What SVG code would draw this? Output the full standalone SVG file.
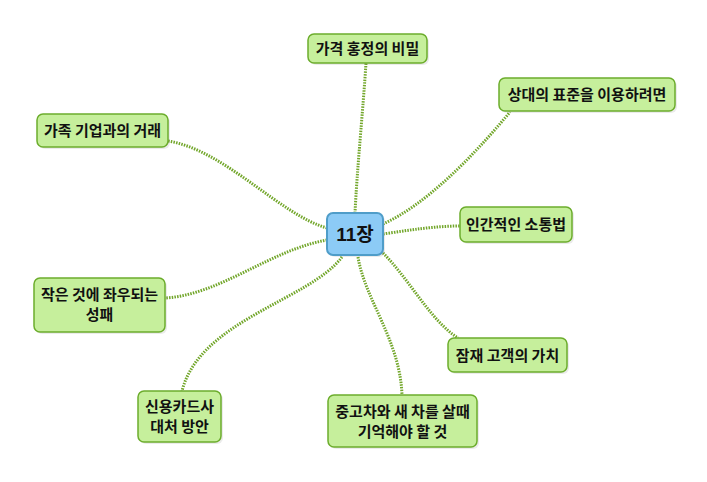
<svg xmlns="http://www.w3.org/2000/svg" width="707" height="482" viewBox="0 0 707 482">
<style>
.bg{fill:#ffffff}
.con{fill:none;stroke:#72a62a;stroke-width:3;stroke-dasharray:1.5 1.2}
.box{fill:#c6ef9c;stroke:#6cad2c;stroke-width:1.5}
.shadow{fill:#000;opacity:0.08}
.cbox{fill:#8ccbf6;stroke:#4f9dc9;stroke-width:2}
.t{font-family:"Noto Sans CJK KR","Noto Sans",sans-serif;font-weight:bold;font-size:15px;fill:#111;text-anchor:middle}
.ct{font-family:"Liberation Sans","Noto Sans CJK KR",sans-serif;font-weight:bold;font-size:19px;fill:#111;text-anchor:middle}
</style>
<rect class="bg" x="0" y="0" width="707" height="482"/>
<g id="connectors">
<path class="con" d="M355,213 C357,170 363,110 366,63"/>
<path class="con" d="M383,224 C425,205 470,160 510,112"/>
<path class="con" d="M327,228 C280,215 225,150 168,141"/>
<path class="con" d="M383,234 C410,230 435,226 460,226"/>
<path class="con" d="M327,240 C270,250 220,295 165,298"/>
<path class="con" d="M342,257 C310,300 200,320 182,391"/>
<path class="con" d="M358,257 C365,300 400,340 402,395"/>
<path class="con" d="M383,253 C410,280 430,320 458,338"/>
</g>
<g id="center">
<rect class="shadow" x="329" y="215" width="56" height="42" rx="6"/>
<rect class="cbox" x="327" y="213" width="56" height="42" rx="6"/>
<text class="ct" x="355" y="241">11장</text>
</g>
<g id="n1">
<rect class="shadow" x="310" y="36" width="119" height="29" rx="6"/>
<rect class="box" x="308" y="34" width="119" height="29" rx="6"/>
<text class="t" x="367.5" y="54">가격 홍정의 비밀</text>
</g>
<g id="n2">
<rect class="shadow" x="501" y="80" width="176" height="33" rx="6"/>
<rect class="box" x="499" y="78" width="176" height="33" rx="6"/>
<text class="t" x="587" y="100">상대의 표준을 이용하려면</text>
</g>
<g id="n3">
<rect class="shadow" x="39" y="116" width="131" height="33" rx="6"/>
<rect class="box" x="37" y="114" width="131" height="33" rx="6"/>
<text class="t" x="102.5" y="136">가족 기업과의 거래</text>
</g>
<g id="n8">
<rect class="shadow" x="462" y="209" width="112" height="35" rx="6"/>
<rect class="box" x="460" y="207" width="112" height="35" rx="6"/>
<text class="t" x="516" y="230">인간적인 소통법</text>
</g>
<g id="n4">
<rect class="shadow" x="36" y="280" width="131" height="54" rx="6"/>
<rect class="box" x="34" y="278" width="131" height="54" rx="6"/>
<text class="t" x="99.5" y="300">작은 것에 좌우되는</text>
<text class="t" x="99.5" y="320">성패</text>
</g>
<g id="n5">
<rect class="shadow" x="140" y="393" width="83" height="51" rx="6"/>
<rect class="box" x="138" y="391" width="83" height="51" rx="6"/>
<text class="t" x="179.5" y="412">신용카드사</text>
<text class="t" x="179.5" y="432">대처 방안</text>
</g>
<g id="n6">
<rect class="shadow" x="330" y="397" width="149" height="52" rx="6"/>
<rect class="box" x="328" y="395" width="149" height="52" rx="6"/>
<text class="t" x="402.5" y="417">중고차와 새 차를 살때</text>
<text class="t" x="402.5" y="437">기억해야 할 것</text>
</g>
<g id="n7">
<rect class="shadow" x="450" y="340" width="119" height="34" rx="6"/>
<rect class="box" x="448" y="338" width="119" height="34" rx="6"/>
<text class="t" x="507.5" y="360.5">잠재 고객의 가치</text>
</g>
</svg>
